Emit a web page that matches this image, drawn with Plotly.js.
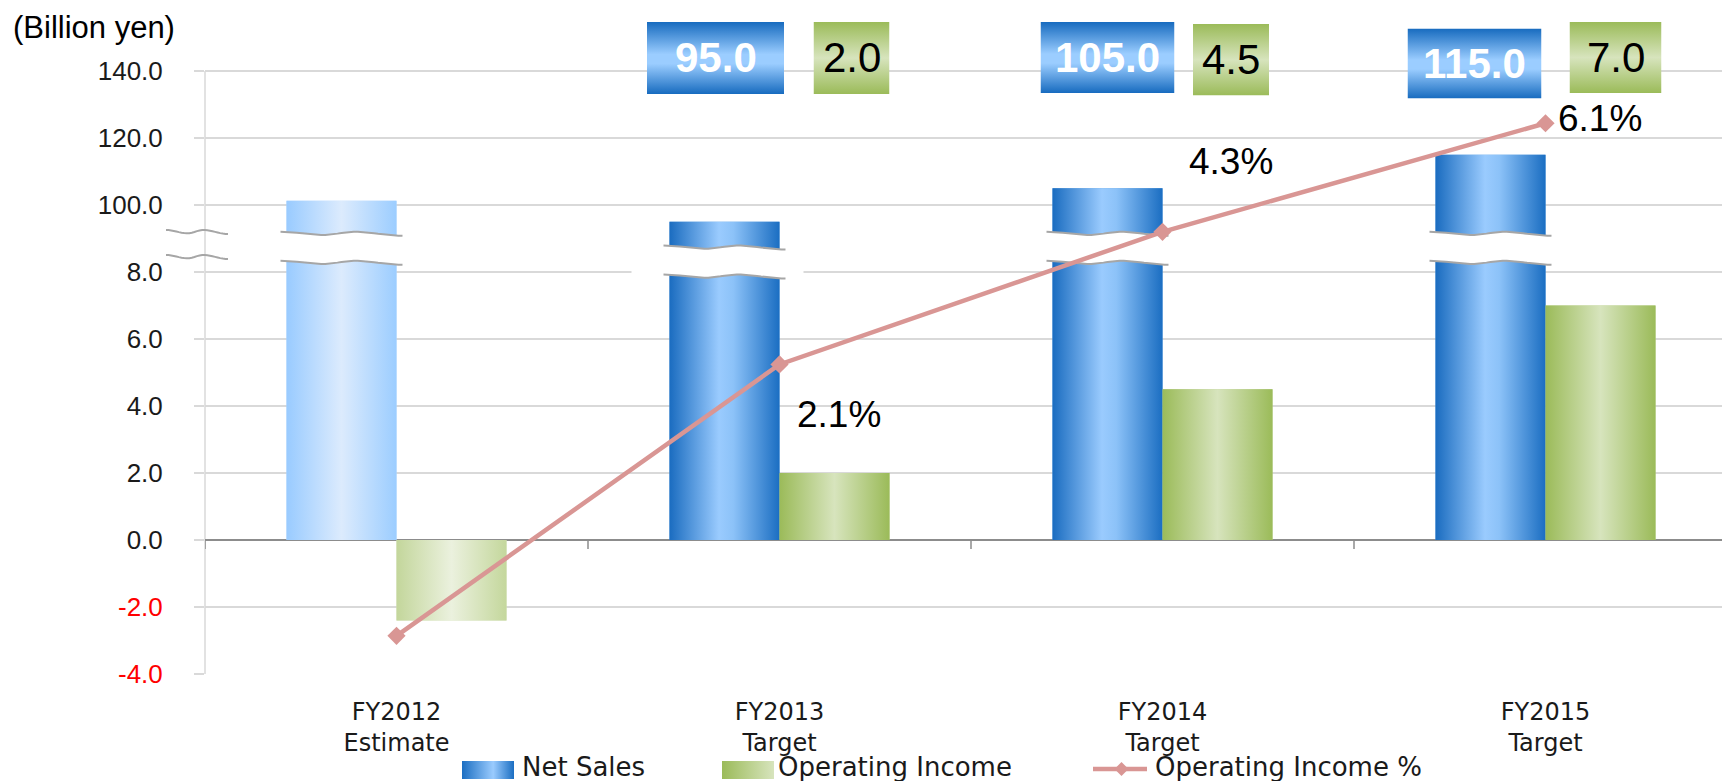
<!DOCTYPE html>
<html>
<head>
<meta charset="utf-8">
<script src="https://cdn.plot.ly/plotly-3.0.1.min.js"></script>
<style>html,body{margin:0;padding:0;background:#fff;}#chart{width:1722px;height:781px;}</style>
</head>
<body>
<div id="chart"></div>
<script>
// ---------------- data ----------------
const categories = ['FY2012', 'FY2013', 'FY2014', 'FY2015'];
const categoryNotes = ['Estimate', 'Target', 'Target', 'Target'];
const netSales = [101.3, 95.0, 105.0, 115.0];          // billion yen
const operatingIncome = [-2.4, 2.0, 4.5, 7.0];          // billion yen
const operatingIncomePct = [-2.4, 2.1, 4.3, 6.1];       // %
const pctLabelShown = [false, true, true, true];
const boxLabelShown = [false, true, true, true];
const lowerTicks = [-4, -2, 0, 2, 4, 6, 8];             // billion yen (income scale)
const upperTicks = [100, 120, 140];                     // billion yen (sales scale, above the break)
const seriesNames = ['Net Sales', 'Operating Income', 'Operating Income %'];
const unitLabel = '(Billion yen)';

// ---------------- geometry / style ----------------
const W = 1722, H = 781;
const M = {l: 205, r: 0, t: 0, b: 107};
const plotW = W - M.l - M.r, plotH = H - M.t - M.b;
const PX_CAT = 383, PX_UNIT = 33.5;
const xRange = [-0.5, -0.5 + plotW / PX_CAT];
const yRange = [-4, -4 + plotH / PX_UNIT];
const BAR_W = 110 / PX_CAT;
const dxPx = px => px / PX_CAT;
const dyPx = px => px / PX_UNIT;
const paperX = px => (px - M.l) / plotW;
const paperY = py => 1 - (py - M.t) / plotH;

// broken axis: 100 bn yen sits at axis position 10, 20 bn yen per 2 axis units
const salesToAxis = v => 10 + (v - 100) / 10;
// hidden % axis, linear: axis = 1.8 * pct + 1.46
const PCT_SCALE = 1.8, PCT_OFFSET = 1.46;
const y2Range = yRange.map(d => (d - PCT_OFFSET) / PCT_SCALE);

const C = {
  salesEst: [[0, '#99cbff'], [0.5, '#dcebfd'], [1, '#9ccdff']],
  salesTgt: [[0, '#1a6cc0'], [0.45, '#9acbfe'], [0.58, '#8cc2f8'], [1, '#1b6ec2']],
  incEst: [[0, '#c3d69b'], [0.5, '#ebf1de'], [1, '#c4d79c']],
  incTgt: [[0, '#9bbb59'], [0.5, '#d7e4bd'], [1, '#9bbb59']],
  boxBlue: [[0, '#176bbf'], [0.45, '#9bcdff'], [0.58, '#9bcdff'], [1, '#176bbf']],
  boxGreen: [[0, '#9bbb59'], [0.5, '#d7e4bd'], [1, '#9bbb59']],
  legBlue: [[0, '#1b6ec2'], [0.6, '#9acbfe'], [1, '#1b6ec2']],
  legGreen: [[0, '#9bbb59'], [1, '#d7e4bd']],
  line: '#d99694', grid: '#d9d9d9', zero: '#8c8c8c', wave: '#a6a6a6', text: '#1a1a1a'
};
const TICK_FONT = 'Arial, "Liberation Sans", sans-serif';
const CAT_FONT = '"DejaVu Sans", sans-serif';

// break marks on the net-sales bars (axis position of the upper wave)
const breakTop = [9.2, 8.79, 9.2, 9.2];
const BREAK_GAP_PX = 29;
const whitePad = [[6, 6], [38, 24], [6, 6], [6, 6]];
const WAVE = [[0, 0], [0.35, 3.3], [0.6, 0], [1, 4]]; // px offsets (down)

// top value boxes: centre offset from category (px), width, top, height (px)
const blueBox = [null, [-64, 137, 22, 72], [-55, 134, 22, 71], [-71, 134, 28.5, 70]];
const greenBox = [null, [72, 76, 22, 72], [68.5, 76, 24, 71.5], [70, 92, 22, 71]];
const pctShift = [null, [59, -50], [68, 70], [54, 5]];

function waveOff(t) {
  for (let k = 0; k < WAVE.length - 1; k++) {
    const [t0, o0] = WAVE[k], [t1, o1] = WAVE[k + 1];
    if (t <= t1) {
      const u = (t - t0) / (t1 - t0);
      const mu = (1 - Math.cos(Math.PI * u)) / 2;
      return o0 * (1 - mu) + o1 * mu;
    }
  }
  return WAVE[WAVE.length - 1][1];
}
function wave(x0, x1, base, n) {
  const xs = [], ys = [];
  for (let k = 0; k <= n; k++) {
    const t = k / n;
    xs.push(x0 + (x1 - x0) * t);
    ys.push(base - dyPx(waveOff(t)));
  }
  return {x: xs, y: ys};
}
function gradSVG(stops, horizontal) {
  const x2 = horizontal ? 1 : 0, y2 = horizontal ? 0 : 1;
  const st = stops.map(([o, c]) => `<stop offset="${o}" stop-color="${c}"/>`).join('');
  const svg = `<svg xmlns="http://www.w3.org/2000/svg" width="100" height="100" viewBox="0 0 100 100" preserveAspectRatio="none"><defs><linearGradient id="g" x1="0" y1="0" x2="${x2}" y2="${y2}">${st}</linearGradient></defs><rect width="100" height="100" fill="url(#g)"/></svg>`;
  return 'data:image/svg+xml;charset=utf-8,' + encodeURIComponent(svg);
}

const idx = categories.map((_, i) => i);
const isEst = categoryNotes.map(n => n === 'Estimate');
const salesAxis = netSales.map(salesToAxis);

// ---------------- traces ----------------
const traces = [];
traces.push({
  type: 'bar', name: seriesNames[0], x: idx, y: salesAxis, base: 0,
  width: BAR_W, offset: -BAR_W, customdata: netSales, showlegend: false,
  marker: {color: isEst.map(e => e ? '#bcdcfe' : '#5a9fe2'), line: {width: 0}},
  hovertemplate: '%{customdata:.1f}<extra>' + seriesNames[0] + '</extra>'
});
traces.push({
  type: 'bar', name: seriesNames[1], x: idx, y: operatingIncome, base: 0,
  width: BAR_W, offset: 0, showlegend: false,
  marker: {color: isEst.map(e => e ? '#d7e4bd' : '#b9cf8b'), line: {width: 0}},
  hovertemplate: '%{y:.1f}<extra>' + seriesNames[1] + '</extra>'
});
// gradient skins computed from the same values
idx.forEach(i => {
  const s = salesAxis[i];
  traces.push({
    type: 'scatter', mode: 'lines', x: [i - BAR_W, i, i, i - BAR_W, i - BAR_W], y: [0, 0, s, s, 0],
    fill: 'toself', fillcolor: '#5a9fe2', line: {width: 0, color: 'rgba(0,0,0,0)'},
    fillgradient: {type: 'horizontal', colorscale: isEst[i] ? C.salesEst : C.salesTgt},
    hoverinfo: 'skip', showlegend: false
  });
  const v = operatingIncome[i];
  traces.push({
    type: 'scatter', mode: 'lines', x: [i, i + BAR_W, i + BAR_W, i, i], y: [0, 0, v, v, 0],
    fill: 'toself', fillcolor: '#b9cf8b', line: {width: 0, color: 'rgba(0,0,0,0)'},
    fillgradient: {type: 'horizontal', colorscale: isEst[i] ? C.incEst : C.incTgt},
    hoverinfo: 'skip', showlegend: false
  });
});
// break bands on the sales bars
idx.forEach(i => {
  const xL = i - BAR_W - dxPx(6), xR = i + dxPx(6);
  const up = breakTop[i], lo = breakTop[i] - dyPx(BREAK_GAP_PX);
  const wu = wave(xL, xR, up, 30), wl = wave(xL, xR, lo, 30);
  const pl = xL - dxPx(whitePad[i][0] - 6), pr = xR + dxPx(whitePad[i][1] - 6);
  const px = [pl].concat(wu.x, [pr, pr], wl.x.slice().reverse(), [pl, pl]);
  const py = [wu.y[0]].concat(wu.y, [wu.y[wu.y.length - 1], wl.y[wl.y.length - 1]], wl.y.slice().reverse(), [wl.y[0], wu.y[0]]);
  traces.push({type: 'scatter', mode: 'lines', x: px, y: py, fill: 'toself', fillcolor: '#ffffff',
    line: {width: 0, color: 'rgba(0,0,0,0)'}, hoverinfo: 'skip', showlegend: false});
  [wu, wl].forEach(w => traces.push({type: 'scatter', mode: 'lines', x: w.x, y: w.y,
    line: {color: C.wave, width: 2}, hoverinfo: 'skip', showlegend: false}));
});
traces.push({
  type: 'scatter', mode: 'lines+markers', name: seriesNames[2], x: idx, y: operatingIncomePct, yaxis: 'y2',
  line: {color: C.line, width: 4.5}, marker: {symbol: 'diamond', size: 14, color: C.line},
  showlegend: false, hovertemplate: '%{y:.1f}%<extra>' + seriesNames[2] + '</extra>'
});

// ---------------- ticks ----------------
const tickVals = lowerTicks.concat(upperTicks.map(salesToAxis));
const tickText = lowerTicks.map(v => v < 0 ? `<span style="color:#ff0000">${v.toFixed(1)}</span>` : v.toFixed(1))
  .concat(upperTicks.map(v => v.toFixed(1)));

// ---------------- shapes ----------------
const shapes = [];
// y axis line
shapes.push({type: 'line', xref: 'paper', yref: 'y', x0: 0, x1: 0, y0: lowerTicks[0], y1: salesToAxis(upperTicks[upperTicks.length - 1]),
  line: {color: C.grid, width: 1.5}, layer: 'below'});
// category boundary ticks on the zero line
for (let k = 0; k <= categories.length; k++) {
  shapes.push({type: 'line', xref: 'x', yref: 'y', x0: k - 0.5, x1: k - 0.5, y0: 0, y1: -dyPx(9),
    line: {color: C.zero, width: 1.5}});
}
// axis break marks on the y axis
[230, 255].forEach(py => {
  const base = (plotH - py) / PX_UNIT + yRange[0];
  const n = 24, pts = [];
  for (let k = 0; k <= n; k++) {
    const t = k / n;
    const xpx = 166 + (228 - 166) * t;
    pts.push(paperX(xpx).toFixed(5) + ',' + (base - dyPx(waveOff(t))).toFixed(4));
  }
  shapes.push({type: 'path', xref: 'paper', yref: 'y', path: 'M ' + pts.join(' L '), line: {color: C.wave, width: 2}});
});
// legend line sample
const legY = 769;
shapes.push({type: 'line', xref: 'paper', yref: 'paper', x0: paperX(1093), x1: paperX(1147), y0: paperY(legY), y1: paperY(legY),
  line: {color: C.line, width: 4.5}});
{
  const cx = paperX(1121.5), cy = paperY(legY), hx = 7 / plotW, hy = 7 / plotH;
  shapes.push({type: 'path', xref: 'paper', yref: 'paper',
    path: `M ${cx - hx},${cy} L ${cx},${cy + hy} L ${cx + hx},${cy} L ${cx},${cy - hy} Z`,
    fillcolor: C.line, line: {width: 0}});
}

// ---------------- images (gradient boxes) ----------------
const images = [];
const annotations = [];
idx.forEach(i => {
  if (!boxLabelShown[i]) return;
  [[blueBox[i], C.boxBlue, netSales[i].toFixed(1), '#ffffff', 'bold'],
   [greenBox[i], C.boxGreen, operatingIncome[i].toFixed(1), '#000000', 'normal']].forEach(([b, stops, txt, col, wt]) => {
    const [dc, w, top, h] = b;
    images.push({source: gradSVG(stops, false), xref: 'x', yref: 'paper',
      x: i + dxPx(dc - w / 2), y: paperY(top), sizex: dxPx(w), sizey: h / plotH,
      xanchor: 'left', yanchor: 'top', sizing: 'stretch', layer: 'above'});
    annotations.push({xref: 'x', yref: 'paper', x: i + dxPx(dc), y: paperY(top + h / 2),
      text: txt, showarrow: false, xanchor: 'center', yanchor: 'middle',
      font: {family: TICK_FONT, size: 42, color: col, weight: wt}});
  });
});
// % labels
idx.forEach(i => {
  if (!pctLabelShown[i]) return;
  annotations.push({xref: 'x', yref: 'y2', x: i, y: operatingIncomePct[i], text: operatingIncomePct[i].toFixed(1) + '%',
    showarrow: false, xanchor: 'center', yanchor: 'middle', xshift: pctShift[i][0], yshift: pctShift[i][1],
    font: {family: TICK_FONT, size: 37, color: '#000000'}});
});
// custom legend
images.push({source: gradSVG(C.legBlue, true), xref: 'paper', yref: 'paper', x: paperX(462), y: paperY(761),
  sizex: 52 / plotW, sizey: 18 / plotH, xanchor: 'left', yanchor: 'top', sizing: 'stretch', layer: 'above'});
images.push({source: gradSVG(C.legGreen, true), xref: 'paper', yref: 'paper', x: paperX(722), y: paperY(761),
  sizex: 52 / plotW, sizey: 18 / plotH, xanchor: 'left', yanchor: 'top', sizing: 'stretch', layer: 'above'});
[[520, seriesNames[0]], [776, seriesNames[1]], [1153, seriesNames[2]]].forEach(([px, t]) => {
  annotations.push({xref: 'paper', yref: 'paper', x: paperX(px), y: paperY(767), text: t, showarrow: false,
    xanchor: 'left', yanchor: 'middle', font: {family: CAT_FONT, size: 26, color: C.text}});
});

// ---------------- layout ----------------
const layout = {
  width: W, height: H, margin: M, paper_bgcolor: '#ffffff', plot_bgcolor: '#ffffff',
  showlegend: false, barmode: 'overlay',
  title: {text: unitLabel, x: 13 / W, xanchor: 'left', xref: 'container', y: 1 - 27.5 / H, yanchor: 'middle', yref: 'container',
    font: {family: TICK_FONT, size: 31, color: '#000000'}},
  xaxis: {range: xRange, tickmode: 'array', tickvals: idx,
    ticktext: categories.map((c, i) => c + '<br>' + categoryNotes[i]),
    showgrid: false, zeroline: false, showline: false, ticks: '', ticklabelstandoff: 21,
    tickfont: {family: CAT_FONT, size: 24, color: C.text}, fixedrange: true},
  yaxis: {range: yRange, tickmode: 'array', tickvals: tickVals, ticktext: tickText,
    showgrid: true, gridcolor: C.grid, gridwidth: 1.5, zeroline: true, zerolinecolor: C.zero, zerolinewidth: 1.5,
    showline: false, ticks: 'outside', ticklen: 10, tickcolor: C.grid, tickwidth: 1.5, ticklabelstandoff: 26,
    tickfont: {family: TICK_FONT, size: 26, color: C.text}, fixedrange: true},
  yaxis2: {overlaying: 'y', range: y2Range, visible: false, fixedrange: true},
  shapes: shapes, images: images, annotations: annotations
};

Plotly.newPlot('chart', traces, layout, {displayModeBar: false, staticPlot: true});
</script>
</body>
</html>
